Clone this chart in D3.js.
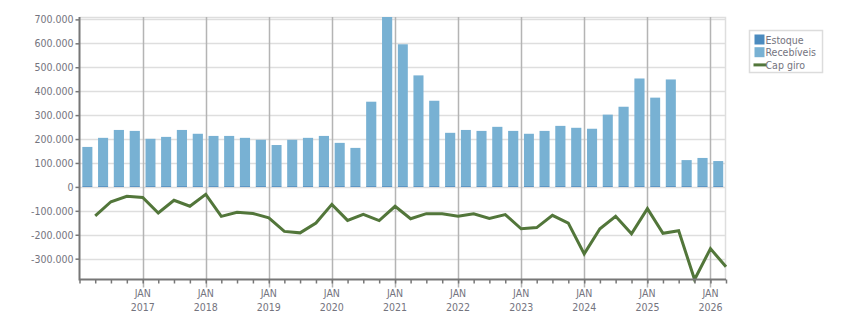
<!DOCTYPE html>
<html>
<head>
<meta charset="utf-8">
<script src="https://cdn.jsdelivr.net/npm/d3@7"></script>
<style>
  body { margin: 0; background: #fff; }
  text { font-family: "DejaVu Sans Condensed", "DejaVu Sans", sans-serif; font-size: 10.5px; fill: #74747e; }
</style>
</head>
<body>
<div class="chart"></div>
<script>
// quarterly reference dates
var periodos = ["2016-04","2016-07","2016-10","2017-01","2017-04","2017-07","2017-10",
  "2018-01","2018-04","2018-07","2018-10","2019-01","2019-04","2019-07","2019-10",
  "2020-01","2020-04","2020-07","2020-10","2021-01","2021-04","2021-07","2021-10",
  "2022-01","2022-04","2022-07","2022-10","2023-01","2023-04","2023-07","2023-10",
  "2024-01","2024-04","2024-07","2024-10","2025-01","2025-04","2025-07","2025-10",
  "2026-01","2026-04"];

var estoque = [4000,4000,4000,4000,4000,4000,4000,4000,4000,4000,4000,4000,4000,4000,
  4000,4000,4000,4000,4000,4000,4000,4000,4000,4000,4000,4000,4000,4000,4000,4000,
  4000,4000,4000,4000,4000,4000,4000,4000,4000,4000,4000];

var recebiveis = [163000,201000,234000,230000,197000,205000,234000,218000,209000,209000,
  201000,193000,171000,193000,201000,209000,180000,159000,352000,706000,592000,462000,
  356000,222000,234000,230000,247000,230000,218000,230000,251000,243000,239000,298000,
  331000,449000,369000,445000,108000,117000,104000];

var capGiro = [-121000,-62000,-39000,-44000,-109000,-56000,-81000,-31000,-123000,-106000,
  -111000,-129000,-186000,-192000,-151000,-73000,-140000,-115000,-141000,-81000,-133000,
  -112000,-112000,-123000,-112000,-132000,-116000,-175000,-170000,-119000,-151000,
  -280000,-175000,-123000,-196000,-91000,-194000,-183000,-387000,-258000,-334000];

var yTicks = [-300000,-200000,-100000,0,100000,200000,300000,400000,500000,600000,700000];
var anos = [2017,2018,2019,2020,2021,2022,2023,2024,2025,2026];
var legenda = ["Estoque", "Recebíveis", "Cap giro"];

var width = 851, height = 313,
    margin = {top: 17, right: 125, bottom: 33.5, left: 79.5};

var parse = d3.timeParse("%Y-%m");
var datas = periodos.map(parse);
var data = datas.map((d, i) => ({
  data: d,
  estoque: estoque[i],
  recebiveis: recebiveis[i],
  capGiro: capGiro[i]
}));

var locale = d3.formatLocale({decimal: ",", thousands: ".", grouping: [3], currency: ["R$", ""], minus: "-"});
var fmt = locale.format(",.0f");

var svg = d3.select(".chart").append("svg")
  .attr("width", width).attr("height", height);

var x0 = margin.left, x1 = width - margin.right,
    yTop = margin.top, yBot = height - margin.bottom;

var xScale = d3.scaleTime()
  .domain([parse("2016-01"), datas[datas.length - 1]])
  .range([x0, x1]);

var yScale = d3.scaleLinear()
  .domain([d3.min(capGiro), d3.max(data, d => d.estoque + d.recebiveis)])
  .range([yBot, yTop]);

// horizontal grid
svg.append("g").selectAll("line")
  .data(yTicks).enter().append("line")
  .attr("x1", x0).attr("x2", x1)
  .attr("y1", d => Math.round(yScale(d)) + 0.5)
  .attr("y2", d => Math.round(yScale(d)) + 0.5)
  .attr("stroke", "#dedede").attr("stroke-width", 1.5);

// plot border top/right
svg.append("path")
  .attr("d", `M${x0},${yTop + 0.5}H${x1 - 0.5}V${yBot}`)
  .attr("fill", "none").attr("stroke", "#dedede").attr("stroke-width", 1.5);

// vertical grid at each January
svg.append("g").selectAll("line")
  .data(anos).enter().append("line")
  .attr("x1", d => Math.round(xScale(new Date(d, 0, 1))) + 0.5)
  .attr("x2", d => Math.round(xScale(new Date(d, 0, 1))) + 0.5)
  .attr("y1", yTop).attr("y2", yBot + 8)
  .attr("stroke", "#b4b4b4").attr("stroke-width", 1.5);

// bars (stacked: estoque + recebiveis)
var bars = svg.append("g").selectAll("g")
  .data(data).enter().append("g");

function bandX(d, i) {
  var prev = i === 0 ? parse("2016-01") : datas[i - 1];
  var a = xScale(prev), b = xScale(d.data);
  return {x: a + (b - a) * 0.18, w: (b - a) * 0.64};
}

bars.append("rect")
  .attr("x", (d, i) => bandX(d, i).x)
  .attr("width", (d, i) => bandX(d, i).w)
  .attr("y", d => yScale(d.estoque + d.recebiveis))
  .attr("height", d => yScale(d.estoque) - yScale(d.estoque + d.recebiveis))
  .style("fill", "#78b1d3");

bars.append("rect")
  .attr("x", (d, i) => bandX(d, i).x)
  .attr("width", (d, i) => bandX(d, i).w)
  .attr("y", d => yScale(d.estoque))
  .attr("height", d => yScale(0) - yScale(d.estoque))
  .style("fill", "#4b8bbf");

// cap giro line
var line = d3.line()
  .x(d => xScale(d.data))
  .y(d => yScale(d.capGiro));

svg.append("path")
  .datum(data)
  .attr("d", line)
  .attr("fill", "none")
  .attr("stroke", "#52763a")
  .attr("stroke-width", 3)
  .attr("stroke-linejoin", "miter");

// Y axis
var yAxis = d3.axisLeft(yScale).tickValues(yTicks).tickFormat(fmt).tickSize(4).tickSizeOuter(0);
var gy = svg.append("g")
  .attr("transform", `translate(${x0},0)`)
  .call(yAxis);
gy.select(".domain").remove();
gy.selectAll(".tick line").attr("stroke", "#777").attr("stroke-width", 1.5);
gy.selectAll(".tick text").attr("x", -6).style("font-size", "10.5px").attr("fill", null);
gy.attr("font-family", null).attr("font-size", null);

// X axis minor ticks (quarters)
var gx = svg.append("g")
  .attr("transform", `translate(0,${yBot})`)
  .call(d3.axisBottom(xScale).tickValues(datas.concat([parse("2016-01")])).tickSize(4).tickFormat(""));
gx.select(".domain").remove();
gx.selectAll(".tick line").attr("stroke", "#777").attr("stroke-width", 1.5);

// year labels
var lab = svg.append("g").selectAll("g")
  .data(anos).enter().append("g")
  .attr("transform", d => `translate(${xScale(new Date(d, 0, 1))},0)`);
lab.append("text").attr("text-anchor", "middle").attr("y", yBot + 17.5).text("JAN");
lab.append("text").attr("text-anchor", "middle").attr("y", yBot + 31).text(d => d);

// axis lines
svg.append("path")
  .attr("d", `M${x0},${yTop}V${yBot}H${x1}`)
  .attr("fill", "none").attr("stroke", "#777").attr("stroke-width", 2);

// legend
var lg = svg.append("g").attr("transform", "translate(749.5,30.5)");
lg.append("rect").attr("width", 73).attr("height", 42)
  .attr("fill", "#fff").attr("stroke", "#dcdcdc").attr("stroke-width", 1.5);

var items = lg.selectAll(".legend")
  .data(legenda).enter().append("g")
  .attr("class", "legend")
  .attr("transform", (d, i) => `translate(5,${9 + i * 12.7})`);

items.filter((d, i) => i < 2).append("rect")
  .attr("x", 0).attr("y", -5).attr("width", 10).attr("height", 10)
  .style("fill", (d, i) => i === 0 ? "#4b8bbf" : "#78b1d3");
items.filter((d, i) => i === 2).append("line")
  .attr("x1", -1).attr("x2", 12).attr("y1", 0).attr("y2", 0)
  .attr("stroke", "#52763a").attr("stroke-width", 3);
items.append("text")
  .attr("x", 11).attr("y", 4)
  .text(d => d);
</script>
</body>
</html>
